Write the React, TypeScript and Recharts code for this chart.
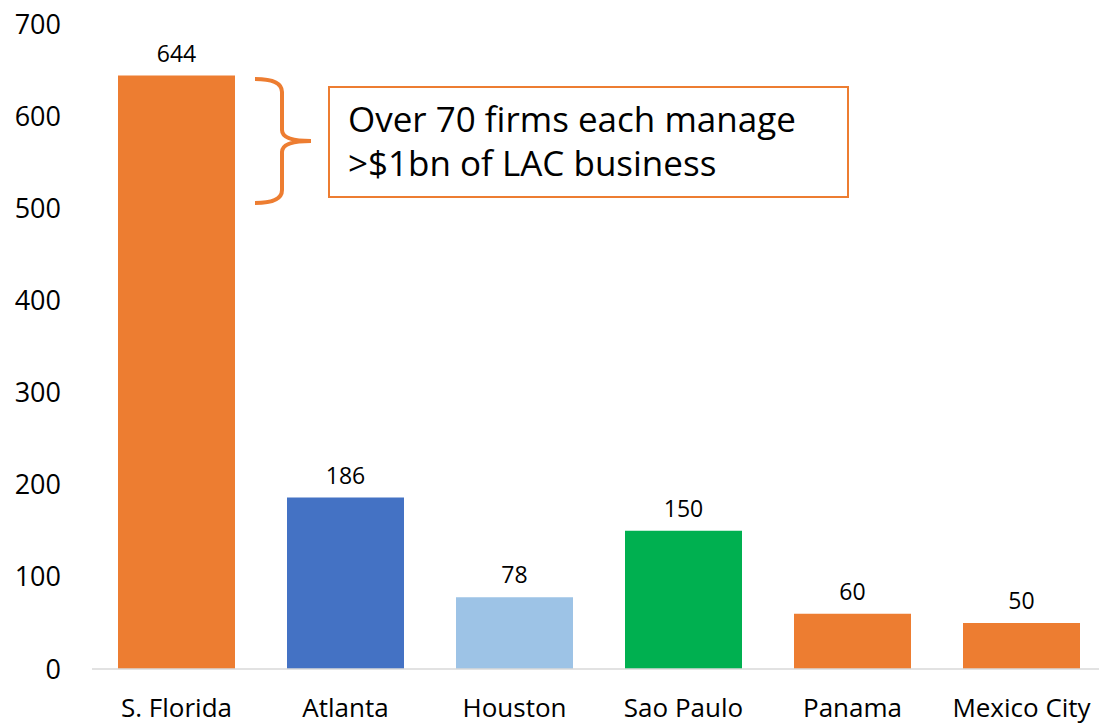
import { BarChart, Bar, XAxis, YAxis, Cell, LabelList } from 'recharts';

const cities = ['S. Florida', 'Atlanta', 'Houston', 'Sao Paulo', 'Panama', 'Mexico City'];
const firms = [644, 186, 78, 150, 60, 50];
const barColors = ['#ED7D31', '#4472C4', '#9DC3E6', '#00B050', '#ED7D31', '#ED7D31'];
const yTicks = [0, 100, 200, 300, 400, 500, 600, 700];

const data = cities.map((city, i) => ({ city, firms: firms[i] }));

const FONT = '"Open Sans", Lato, sans-serif';

export default function App() {
  return (
    <div
      style={{
        position: 'absolute',
        left: 0,
        top: 0,
        width: 1099,
        height: 725,
        overflow: 'hidden',
        background: '#fff',
        fontFamily: FONT,
      }}
    >
      <BarChart
        width={1106}
        height={725}
        data={data}
        margin={{ top: 24, right: 0, bottom: 0, left: 0 }}
        barCategoryGap={26}
      >
        <XAxis
          dataKey="city"
          height={56}
          tickLine={false}
          tickSize={0}
          tickMargin={30}
          axisLine={{ stroke: '#d9d9d9', strokeWidth: 1.5 }}
          tick={{ fontSize: 26, fill: '#000', fontFamily: FONT }}
          interval={0}
        />
        <YAxis
          width={92}
          domain={[0, 700]}
          ticks={yTicks}
          axisLine={false}
          tickLine={false}
          tickSize={0}
          tickMargin={31}
          tick={{ fontSize: 27, fill: '#000', fontFamily: FONT }}
        />
        <Bar dataKey="firms" isAnimationActive={false}>
          {data.map((d, i) => (
            <Cell key={d.city} fill={barColors[i]} />
          ))}
          <LabelList
            dataKey="firms"
            position="top"
            offset={14}
            style={{ fontSize: 23, fill: '#000', fontFamily: FONT }}
          />
        </Bar>
      </BarChart>
      <svg
        width={1099}
        height={725}
        style={{ position: 'absolute', left: 0, top: 0, pointerEvents: 'none' }}
      >
        <path
          d="M255 79 Q282 79 282 92 L282 130 Q282 141 311 141 Q282 141 282 152 L282 190 Q282 203 255 203"
          fill="none"
          stroke="#ED7D31"
          strokeWidth={4}
        />
      </svg>
      <div
        style={{
          position: 'absolute',
          left: 328,
          top: 86,
          width: 521,
          height: 112,
          border: '2px solid #ED7D31',
          boxSizing: 'border-box',
          padding: '9px 0 0 18px',
          fontSize: 35,
          lineHeight: '44px',
          color: '#000',
          fontFamily: FONT,
          whiteSpace: 'nowrap',
        }}
      >
        Over 70 firms each manage
        <br />
        &gt;$1bn of LAC business
      </div>
    </div>
  );
}
